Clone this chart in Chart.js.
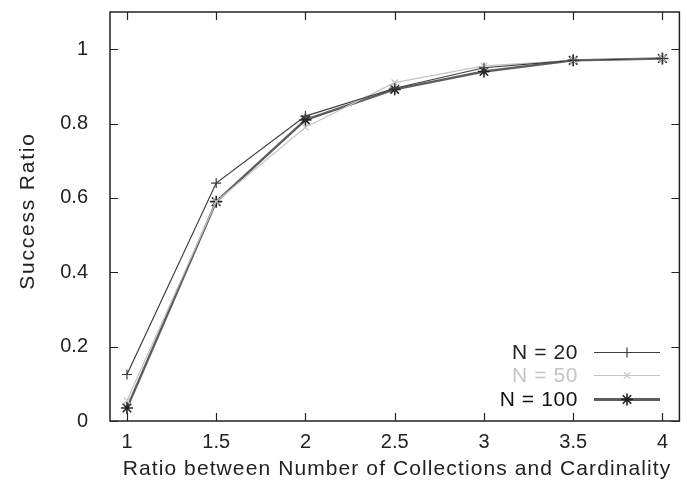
<!DOCTYPE html>
<html>
<head>
<meta charset="utf-8">
<script src="https://cdn.jsdelivr.net/npm/chart.js@4/dist/chart.umd.min.js"></script>
<style>
html,body{margin:0;padding:0;background:#fff;}
#wrap{width:687px;height:493px;position:relative;}
</style>
</head>
<body>
<div id="wrap"><canvas id="c" width="687" height="493"></canvas></div>
<script>
const ratios = [1, 1.5, 2, 2.5, 3, 3.5, 4];
const n20  = [0.125, 0.64, 0.82, 0.895, 0.95, 0.97, 0.975];
const n50  = [0.055, 0.59, 0.79, 0.91, 0.955, 0.97, 0.975];
const n100 = [0.035, 0.59, 0.81, 0.892, 0.94, 0.97, 0.975];
const xTicks = [1, 1.5, 2, 2.5, 3, 3.5, 4];
const yTicks = [0, 0.2, 0.4, 0.6, 0.8, 1];
const seriesLabels = ['N = 20', 'N = 50', 'N = 100'];
const xTitle = 'Ratio between Number of Collections and Cardinality';
const yTitle = 'Success Ratio';

const FONT = 'Liberation Sans, Arial, sans-serif';
function pts(arr){ return ratios.map((x,i)=>({x:x, y:arr[i]})); }

const styles = [
  {color:'#3c3c3c', width:1.2, point:'cross', r:5, text:'#222', pbw:1.2, pbc:'#3c3c3c'},
  {color:'#c4c4c4', width:1.2, point:'crossRot', r:4.5, text:'#c4c4c4', pbw:1.2, pbc:'#c4c4c4'},
  {color:'#5e5e5e', width:2.4, point:'star', r:6, text:'#111', pbw:1.6, pbc:'#222'}
];
const dataArrs = [n20, n50, n100];

const datasets = dataArrs.map((a,i)=>({
  label: seriesLabels[i],
  data: pts(a),
  borderColor: styles[i].color,
  backgroundColor: styles[i].color,
  borderWidth: styles[i].width,
  pointStyle: styles[i].point,
  pointRadius: styles[i].r,
  pointBorderWidth: styles[i].pbw,
  pointBorderColor: styles[i].pbc,
  fill: false,
  tension: 0
}));

const framePlugin = {
  id: 'frame',
  afterDraw(chart){
    const ctx = chart.ctx, a = chart.chartArea;
    const xs = chart.scales.x, ys = chart.scales.y;
    ctx.save();
    ctx.strokeStyle = '#222';
    ctx.lineWidth = 1.5;
    ctx.strokeRect(a.left, a.top, a.right - a.left, a.bottom - a.top);
    ctx.lineWidth = 1.2;
    const L = 8;
    ctx.beginPath();
    xTicks.forEach(v=>{
      const px = Math.round(xs.getPixelForValue(v)) + 0.5;
      ctx.moveTo(px, a.bottom); ctx.lineTo(px, a.bottom - L);
      ctx.moveTo(px, a.top); ctx.lineTo(px, a.top + L);
    });
    yTicks.forEach(v=>{
      const py = Math.round(ys.getPixelForValue(v)) + 0.5;
      ctx.moveTo(a.left, py); ctx.lineTo(a.left + L, py);
      ctx.moveTo(a.right, py); ctx.lineTo(a.right - L, py);
    });
    ctx.stroke();

    // axis titles
    ctx.fillStyle = '#222';
    ctx.font = '21px ' + FONT;
    ctx.textBaseline = 'middle';
    ctx.textAlign = 'center';
    ctx.letterSpacing = '1.1px';
    ctx.fillText(xTitle, 397, 469);
    ctx.save();
    ctx.translate(28, 211);
    ctx.rotate(-Math.PI/2);
    ctx.letterSpacing = '1.8px';
    ctx.fillText(yTitle, 0, 0);
    ctx.restore();

    // legend (inside plot, bottom right)
    const textX = 578, lineX0 = 594, lineX1 = 660, rowY = [352, 375, 399];
    ctx.font = '21px ' + FONT;
    ctx.letterSpacing = '0.6px';
    ctx.textAlign = 'right';
    chart.data.datasets.forEach((ds,i)=>{
      const y = rowY[i];
      ctx.fillStyle = styles[i].text;
      ctx.fillText(ds.label, textX, y + 1);
      ctx.strokeStyle = ds.borderColor;
      ctx.lineWidth = i === 2 ? 3 : ds.borderWidth;
      ctx.beginPath();
      ctx.moveTo(lineX0, y + 0.5); ctx.lineTo(lineX1, y + 0.5);
      ctx.stroke();
      ctx.strokeStyle = ds.pointBorderColor;
      ctx.lineWidth = ds.pointBorderWidth;
      Chart.helpers.drawPoint(ctx, {
        pointStyle: ds.pointStyle, radius: ds.pointRadius, borderWidth: ds.pointBorderWidth
      }, (lineX0 + lineX1)/2, y + 0.5);
    });
    ctx.restore();
  }
};

new Chart(document.getElementById('c'), {
  type: 'line',
  data: { datasets: datasets },
  options: {
    responsive: false,
    animation: false,
    devicePixelRatio: 1,
    layout: { padding: { left: 0, right: 2, top: 12, bottom: 0 } },
    plugins: { legend: { display: false }, tooltip: { enabled: false } },
    scales: {
      x: {
        type: 'linear',
        min: 0.905,
        max: 4.095,
        afterBuildTicks(s){ s.ticks = xTicks.map(v=>({value:v})); },
        afterFit(s){ s.height = 72; s.paddingLeft = 0; s.paddingRight = 0; },
        grid: { display: false, drawTicks: false },
        border: { display: false },
        ticks: { color: '#222', font: { family: FONT, size: 20 }, padding: 9, maxRotation: 0,
                 callback: v => String(v) },
        title: { display: false }
      },
      y: {
        type: 'linear',
        min: 0,
        max: 1.1,
        afterBuildTicks(s){ s.ticks = yTicks.map(v=>({value:v})); },
        afterFit(s){ s.width = 110; s.paddingTop = 0; s.paddingBottom = 0; },
        grid: { display: false, drawTicks: false },
        border: { display: false },
        ticks: { color: '#222', font: { family: FONT, size: 20 }, padding: 22,
                 callback: v => String(v) },
        title: { display: false }
      }
    }
  },
  plugins: [framePlugin]
});
</script>
</body>
</html>
